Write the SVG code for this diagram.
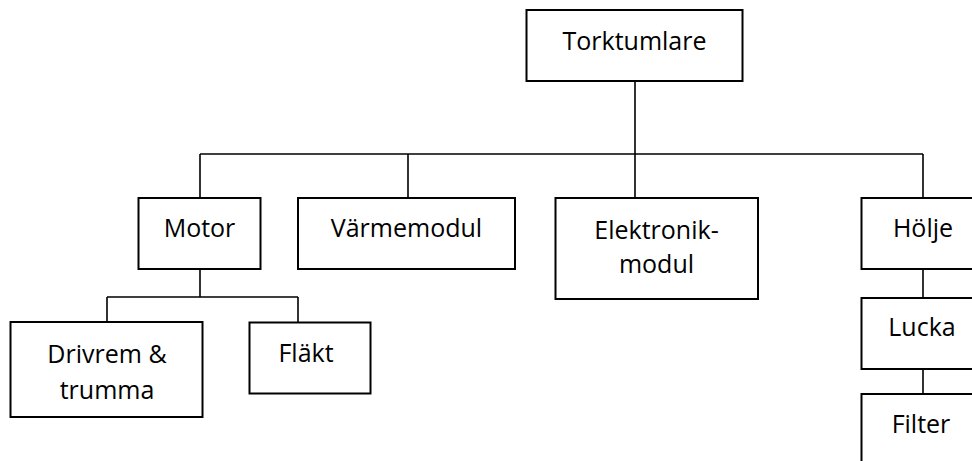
<svg xmlns="http://www.w3.org/2000/svg" width="972" height="461" viewBox="0 0 972 461">
<style>
.box{fill:#fff;stroke:#000;stroke-width:2}
.t{font-family:"Open Sans","Noto Sans",sans-serif;font-size:25px;fill:#000;text-anchor:middle}
.c{fill:none;stroke:#000;stroke-width:1.6}
</style>
<rect width="972" height="461" fill="#fff"/>
<g id="connectors">
<path class="c" d="M635 81.5V154M200 154H923M200 154V198M408 154V198M635 154V198M923 154V198"/>
<path class="c" d="M200 269V297M107 297H298M107 297V322M298 297V322"/>
<path class="c" d="M923 269V298M923 369V394"/>
</g>
<g id="torktumlare"><rect class="box" x="526.5" y="10" width="216" height="71"/><text class="t" x="634.5" y="50">Torktumlare</text></g>
<g id="motor"><rect class="box" x="138.5" y="198" width="122" height="71"/><text class="t" x="199.5" y="237">Motor</text></g>
<g id="varmemodul"><rect class="box" x="298" y="198" width="217" height="71"/><text class="t" x="406.5" y="237">Värmemodul</text></g>
<g id="elektronikmodul"><rect class="box" x="555.5" y="198" width="202.5" height="101"/><text class="t" x="656.5" y="239">Elektronik-</text><text class="t" x="656.5" y="273">modul</text></g>
<g id="holje"><rect class="box" x="861.5" y="198" width="124" height="71"/><text class="t" x="923" y="237">Hölje</text></g>
<g id="lucka"><rect class="box" x="861.5" y="298" width="124" height="71"/><text class="t" x="922" y="336">Lucka</text></g>
<g id="filter"><rect class="box" x="861.5" y="394" width="124" height="100"/><text class="t" x="921" y="433">Filter</text></g>
<g id="drivrem"><rect class="box" x="10.5" y="322" width="192" height="95"/><text class="t" x="107" y="363">Drivrem &amp;</text><text class="t" x="107" y="399">trumma</text></g>
<g id="flakt"><rect class="box" x="249.5" y="322.5" width="121" height="71"/><text class="t" x="306" y="362">Fläkt</text></g>
</svg>
